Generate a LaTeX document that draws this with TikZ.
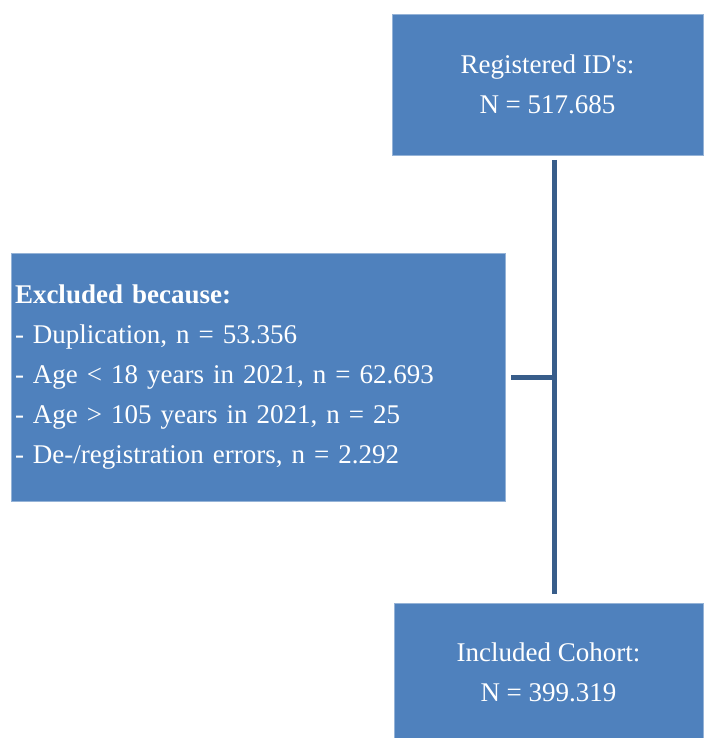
\documentclass[tikz,border=0pt]{standalone}
\usepackage{fontspec}
\setmainfont{Liberation Serif}
\definecolor{boxblue}{HTML}{4F81BD}
\definecolor{lineblue}{HTML}{385D8A}

\begin{document}
\begin{tikzpicture}[x=1pt, y=-1pt,
    box/.style={rectangle, fill=boxblue, draw=boxblue!60!white, line width=0.6pt,
                text=white, inner sep=4pt, font=\fontsize{27}{40}\selectfont},
    link/.style={lineblue, line width=5pt}]
    % flow of the cohort selection
    \useasboundingbox (0,0) rectangle (705,738);

    % the three boxes
    \node[box, minimum width=311pt, minimum height=141pt, align=center] (reg) at (547.5,84.5)
        {Registered ID\textquotesingle s:\\N = 517.685};
    \node[box, minimum width=494pt, minimum height=248pt, text width=486pt, align=left] (excl) at (258,377)
        {\textbf{Excluded because:}\\
         - Duplication, n = 53.356\\
         - Age < 18 years in 2021, n = 62.693\\
         - Age > 105 years in 2021, n = 25\\
         - De-/registration errors, n = 2.292};
    \node[box, minimum width=309pt, minimum height=137pt, align=center] (incl) at (548.5,672)
        {Included Cohort:\\N = 399.319};

    % the connectors
    \coordinate (top) at (554,160);
    \coordinate (join) at (554,377);
    \coordinate (bot) at (554,594);
    \coordinate (stub) at (511,377);
    \draw[link] (top) -- (bot);
    \draw[link] (stub) -- (join);
\end{tikzpicture}
\end{document}
